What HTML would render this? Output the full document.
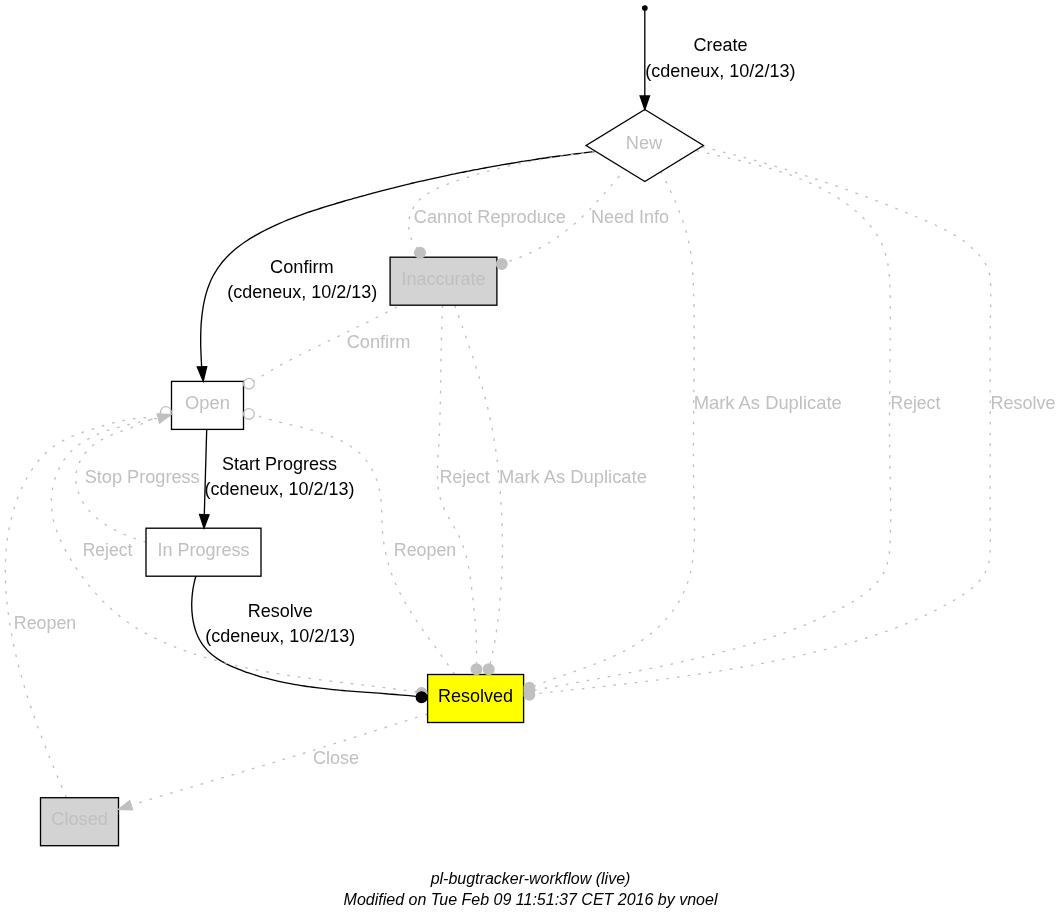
<!DOCTYPE html>
<html lang="en">
<head>
<meta charset="utf-8">
<title>pl-bugtracker-workflow (live)</title>
<style>
html,body{margin:0;padding:0;background:#fff;}
body{width:1061px;height:923px;overflow:hidden;}
svg{display:block;will-change:transform;}
text{font-family:"Liberation Sans",sans-serif;font-size:18.67px;text-anchor:middle;}
.g{fill:#c0c0c0;}
.k{fill:#000;}
.f{font-style:italic;font-size:16px;fill:#000;}
.e{fill:none;stroke:#000;stroke-width:1.33;}
.d{fill:none;stroke:#c0c0c0;stroke-width:1.33;stroke-dasharray:2.67,8;}
.n{stroke:#000;stroke-width:1.33;}
</style>
</head>
<body>
<svg width="1061" height="923" viewBox="0 0 1061 923">
<rect width="1061" height="923" fill="#fff"/>
<g id="edges-solid">
<path class="e" d="M644.8,8.0 C644.8,22.7 644.8,81.3 644.8,96.0"/>
<path class="e" d="M594.5,151.6 C593.3,151.7 589.8,152.1 587.4,152.4 C585.1,152.7 582.7,153.0 580.4,153.3 C578.0,153.6 575.7,153.9 573.3,154.2 C571.0,154.5 568.6,154.8 566.3,155.1 C564.0,155.4 561.6,155.7 559.3,156.0 C556.9,156.3 554.6,156.7 552.2,157.0 C549.9,157.3 547.6,157.6 545.2,158.0 C542.9,158.3 540.5,158.7 538.2,159.0 C535.9,159.4 533.5,159.7 531.2,160.1 C528.9,160.4 526.5,160.8 524.2,161.2 C521.9,161.5 519.6,161.9 517.2,162.3 C514.9,162.7 512.6,163.1 510.2,163.5 C507.9,163.8 505.6,164.2 503.3,164.6 C500.9,165.0 498.6,165.5 496.3,165.9 C494.0,166.3 491.7,166.7 489.3,167.1 C487.0,167.5 484.7,168.0 482.4,168.4 C480.1,168.8 477.7,169.3 475.4,169.7 C473.1,170.2 470.8,170.6 468.5,171.1 C466.2,171.5 463.9,172.0 461.6,172.4 C459.2,172.9 456.9,173.4 454.6,173.9 C452.3,174.3 450.0,174.8 447.7,175.3 C445.4,175.8 443.1,176.3 440.8,176.8 C438.5,177.3 436.2,177.8 433.9,178.3 C431.6,178.8 429.3,179.3 427.0,179.8 C424.7,180.4 422.4,180.9 420.1,181.4 C417.8,181.9 415.5,182.5 413.2,183.0 C410.9,183.6 408.6,184.1 406.3,184.7 C404.0,185.2 401.7,185.8 399.4,186.4 C397.1,186.9 394.8,187.5 392.5,188.1 C390.2,188.6 387.9,189.2 385.7,189.8 C383.4,190.4 381.1,191.0 378.8,191.6 C376.5,192.2 374.2,192.8 371.9,193.4 C369.7,194.0 367.4,194.6 365.1,195.3 C362.8,195.9 360.5,196.5 358.2,197.2 C356.0,197.8 353.7,198.4 351.4,199.1 C349.1,199.7 346.8,200.4 344.6,201.0 C342.3,201.7 340.0,202.4 337.7,203.0 C335.4,203.7 333.2,204.4 330.9,205.1 C328.6,205.8 326.4,206.5 324.1,207.2 C321.8,207.9 319.6,208.6 317.3,209.3 C315.0,210.0 312.8,210.8 310.5,211.5 C308.3,212.3 306.0,213.1 303.8,213.9 C301.6,214.7 299.3,215.5 297.1,216.3 C294.9,217.1 292.7,218.0 290.5,218.8 C288.3,219.7 286.1,220.6 283.9,221.5 C281.7,222.4 279.6,223.4 277.4,224.4 C275.2,225.3 273.1,226.3 271.0,227.3 C268.8,228.4 266.7,229.4 264.6,230.5 C262.5,231.6 260.4,232.7 258.3,233.8 C256.2,235.0 254.2,236.2 252.1,237.4 C250.1,238.6 248.1,239.9 246.1,241.2 C244.2,242.5 242.2,243.8 240.3,245.3 C238.4,246.7 236.6,248.1 234.8,249.6 C233.0,251.1 231.3,252.7 229.6,254.3 C227.9,255.9 226.3,257.6 224.8,259.3 C223.2,261.0 221.7,262.8 220.4,264.6 C219.0,266.5 217.6,268.3 216.4,270.3 C215.2,272.2 214.0,274.2 212.9,276.3 C211.9,278.3 210.9,280.4 210.0,282.5 C209.1,284.7 208.3,286.9 207.5,289.1 C206.8,291.3 206.1,293.6 205.5,295.9 C204.9,298.2 204.4,300.5 203.9,302.8 C203.4,305.2 203.0,307.5 202.7,309.9 C202.3,312.3 202.0,314.7 201.8,317.1 C201.5,319.6 201.3,322.0 201.1,324.4 C201.0,326.8 200.9,329.3 200.8,331.7 C200.7,334.1 200.7,336.6 200.7,339.0 C200.7,341.4 200.7,343.8 200.7,346.2 C200.8,348.6 200.9,350.9 201.0,353.3 C201.0,355.6 201.2,357.9 201.3,360.2 C201.4,362.5 201.6,365.9 201.7,367.0"/>
<path class="e" d="M206.7,429.5 C206.3,443.7 204.7,500.4 204.3,514.6"/>
<path class="e" d="M195.9,576.1 C195.6,577.2 194.7,580.4 194.2,582.6 C193.7,584.8 193.3,587.1 192.9,589.4 C192.6,591.7 192.3,594.1 192.1,596.4 C191.9,598.8 191.8,601.2 191.7,603.6 C191.7,606.0 191.8,608.5 191.9,610.9 C192.1,613.4 192.3,615.8 192.7,618.3 C193.1,620.7 193.5,623.1 194.1,625.5 C194.7,627.8 195.4,630.1 196.2,632.4 C197.0,634.6 198.0,636.8 199.0,638.8 C200.1,640.9 201.3,642.8 202.6,644.7 C203.9,646.5 205.4,648.2 206.9,649.9 C208.4,651.5 210.1,653.0 211.8,654.5 C213.6,655.9 215.4,657.3 217.3,658.6 C219.2,659.8 221.2,661.0 223.2,662.2 C225.3,663.3 227.4,664.4 229.5,665.4 C231.6,666.4 233.8,667.3 236.0,668.2 C238.2,669.2 240.5,670.0 242.7,670.8 C244.9,671.7 247.2,672.5 249.4,673.2 C251.7,674.0 253.9,674.7 256.2,675.4 C258.4,676.1 260.7,676.7 263.0,677.4 C265.2,678.0 267.5,678.6 269.8,679.2 C272.1,679.8 274.4,680.3 276.7,680.8 C278.9,681.4 281.2,681.9 283.5,682.3 C285.8,682.8 288.1,683.3 290.4,683.7 C292.7,684.1 295.1,684.5 297.4,684.9 C299.7,685.3 302.0,685.7 304.3,686.0 C306.6,686.4 309.0,686.7 311.3,687.0 C313.6,687.3 315.9,687.6 318.3,687.9 C320.6,688.2 322.9,688.5 325.3,688.7 C327.6,689.0 329.9,689.2 332.3,689.5 C334.6,689.7 336.9,689.9 339.3,690.2 C341.6,690.4 344.0,690.6 346.3,690.8 C348.6,691.0 351.0,691.2 353.3,691.3 C355.7,691.5 358.0,691.7 360.4,691.9 C362.7,692.1 365.1,692.2 367.4,692.4 C369.7,692.6 372.1,692.8 374.4,692.9 C376.8,693.1 379.1,693.3 381.5,693.4 C383.8,693.6 386.1,693.8 388.5,694.0 C390.8,694.1 393.2,694.3 395.5,694.5 C397.8,694.7 400.2,694.9 402.5,695.1 C404.9,695.3 407.2,695.5 409.5,695.7 C411.8,695.9 415.3,696.3 416.5,696.4"/>
</g>
<g id="edges-dotted">
<path class="d" d="M594.5,151.6 C593.3,151.8 589.7,152.2 587.3,152.5 C584.9,152.9 582.5,153.2 580.1,153.5 C577.8,153.8 575.4,154.2 573.0,154.5 C570.6,154.8 568.3,155.2 565.9,155.5 C563.5,155.9 561.2,156.2 558.8,156.6 C556.5,157.0 554.1,157.3 551.8,157.7 C549.4,158.1 547.1,158.5 544.8,158.9 C542.4,159.3 540.1,159.7 537.8,160.1 C535.4,160.5 533.1,161.0 530.8,161.4 C528.4,161.9 526.1,162.3 523.8,162.8 C521.5,163.2 519.2,163.7 516.9,164.2 C514.5,164.7 512.2,165.2 509.9,165.7 C507.6,166.3 505.3,166.8 503.0,167.4 C500.7,167.9 498.4,168.5 496.1,169.1 C493.8,169.7 491.5,170.3 489.2,170.9 C486.9,171.5 484.6,172.1 482.3,172.8 C480.0,173.4 477.7,174.1 475.4,174.8 C473.1,175.5 470.8,176.2 468.5,177.0 C466.2,177.7 463.9,178.5 461.6,179.2 C459.3,180.0 457.0,180.8 454.7,181.6 C452.4,182.5 450.1,183.3 447.8,184.2 C445.5,185.1 443.2,185.9 441.0,186.9 C438.7,187.8 436.5,188.8 434.3,189.9 C432.2,191.0 430.0,192.1 428.1,193.3 C426.1,194.5 424.1,195.8 422.4,197.2 C420.6,198.7 418.9,200.2 417.4,201.9 C416.0,203.5 414.6,205.3 413.5,207.3 C412.3,209.2 411.4,211.4 410.6,213.6 C409.9,215.8 409.4,218.1 409.0,220.5 C408.7,222.8 408.6,225.2 408.8,227.6 C408.9,230.0 409.3,232.5 409.9,234.8 C410.5,237.2 411.4,239.5 412.6,241.7 C413.7,243.9 416.1,247.0 416.8,248.0"/>
<path class="d" d="M626.5,168.0 C625.7,168.9 623.4,171.5 621.9,173.3 C620.3,175.0 618.8,176.8 617.3,178.6 C615.7,180.3 614.2,182.1 612.6,183.9 C611.1,185.7 609.6,187.5 608.0,189.2 C606.5,191.0 604.9,192.8 603.4,194.5 C601.8,196.3 600.2,198.0 598.6,199.8 C597.0,201.5 595.5,203.3 593.8,205.0 C592.2,206.7 590.6,208.4 589.0,210.1 C587.3,211.7 585.7,213.4 584.0,215.0 C582.3,216.7 580.6,218.3 578.9,219.9 C577.2,221.4 575.5,223.0 573.7,224.5 C571.9,226.1 570.1,227.5 568.3,229.0 C566.5,230.5 564.7,231.9 562.8,233.3 C560.9,234.7 559.0,236.1 557.1,237.4 C555.2,238.7 553.3,240.0 551.3,241.3 C549.3,242.5 547.4,243.7 545.3,244.9 C543.3,246.1 541.3,247.3 539.2,248.4 C537.2,249.5 535.1,250.6 533.0,251.6 C530.9,252.6 528.8,253.6 526.6,254.6 C524.5,255.6 522.3,256.5 520.1,257.4 C517.9,258.3 515.7,259.1 513.5,259.9 C511.2,260.7 507.8,261.8 506.7,262.2"/>
<path class="d" d="M397.0,307.0 C396.0,307.5 392.9,309.2 390.8,310.2 C388.7,311.3 386.6,312.4 384.5,313.4 C382.5,314.5 380.4,315.6 378.3,316.6 C376.2,317.7 374.1,318.7 372.0,319.8 C369.9,320.8 367.8,321.9 365.7,322.9 C363.6,324.0 361.5,325.0 359.4,326.0 C357.3,327.1 355.2,328.1 353.1,329.2 C351.0,330.2 348.9,331.2 346.8,332.2 C344.7,333.3 342.6,334.3 340.5,335.3 C338.4,336.3 336.3,337.3 334.2,338.4 C332.0,339.4 329.9,340.4 327.8,341.4 C325.7,342.4 323.6,343.4 321.5,344.5 C319.4,345.5 317.2,346.5 315.1,347.5 C313.0,348.5 310.9,349.6 308.8,350.6 C306.7,351.6 304.6,352.6 302.5,353.7 C300.4,354.7 298.3,355.8 296.2,356.8 C294.2,357.9 292.1,359.0 290.0,360.1 C287.9,361.1 285.9,362.2 283.8,363.3 C281.8,364.5 279.7,365.6 277.7,366.7 C275.6,367.9 273.6,369.0 271.6,370.2 C269.6,371.4 267.6,372.6 265.6,373.8 C263.6,375.0 261.6,376.2 259.6,377.5 C257.7,378.7 254.8,380.7 253.8,381.3"/>
<path class="d" d="M442.6,305.5 C442.5,306.7 442.4,310.2 442.3,312.6 C442.2,314.9 442.1,317.3 442.0,319.6 C441.9,322.0 441.8,324.3 441.8,326.6 C441.7,329.0 441.6,331.3 441.6,333.7 C441.5,336.0 441.4,338.3 441.4,340.7 C441.3,343.0 441.3,345.3 441.2,347.7 C441.2,350.0 441.2,352.3 441.1,354.7 C441.1,357.0 441.0,359.3 441.0,361.6 C441.0,364.0 440.9,366.3 440.9,368.6 C440.9,371.0 440.8,373.3 440.8,375.6 C440.7,377.9 440.7,380.3 440.7,382.6 C440.6,384.9 440.6,387.3 440.6,389.6 C440.5,391.9 440.5,394.3 440.4,396.6 C440.4,398.9 440.3,401.3 440.3,403.6 C440.2,405.9 440.2,408.3 440.1,410.6 C440.0,412.9 440.0,415.3 439.9,417.6 C439.8,420.0 439.8,422.3 439.7,424.7 C439.6,427.0 439.5,429.4 439.4,431.7 C439.3,434.1 439.2,436.4 439.1,438.8 C438.9,441.2 438.8,443.5 438.7,445.9 C438.5,448.2 438.4,450.6 438.2,453.0 C438.1,455.4 437.9,457.7 437.8,460.1 C437.7,462.5 437.6,464.8 437.5,467.2 C437.4,469.6 437.4,471.9 437.4,474.2 C437.4,476.6 437.5,478.9 437.6,481.2 C437.8,483.5 438.0,485.8 438.3,488.1 C438.6,490.4 438.9,492.6 439.4,494.8 C439.9,497.0 440.5,499.2 441.2,501.4 C441.9,503.6 442.8,505.7 443.7,507.8 C444.6,510.0 445.7,512.0 446.8,514.1 C447.8,516.2 449.0,518.2 450.1,520.3 C451.3,522.4 452.5,524.4 453.7,526.4 C454.8,528.5 456.0,530.5 457.1,532.6 C458.2,534.7 459.2,536.8 460.2,538.9 C461.1,541.1 462.0,543.2 462.8,545.4 C463.6,547.6 464.3,549.8 465.0,552.0 C465.7,554.2 466.3,556.5 466.8,558.7 C467.4,561.0 467.8,563.3 468.3,565.6 C468.7,567.9 469.1,570.2 469.5,572.5 C469.9,574.8 470.2,577.2 470.5,579.5 C470.8,581.8 471.1,584.2 471.4,586.5 C471.7,588.8 472.0,591.2 472.3,593.5 C472.5,595.8 472.8,598.2 473.1,600.5 C473.3,602.8 473.6,605.2 473.8,607.5 C474.1,609.8 474.3,612.1 474.5,614.5 C474.8,616.8 475.0,619.1 475.2,621.5 C475.4,623.8 475.5,626.1 475.7,628.4 C475.9,630.8 476.0,633.1 476.1,635.4 C476.2,637.8 476.3,640.1 476.4,642.4 C476.5,644.8 476.6,647.1 476.6,649.4 C476.6,651.8 476.6,654.1 476.6,656.5 C476.6,658.8 476.5,662.3 476.5,663.5"/>
<path class="d" d="M454.8,305.5 C455.2,306.6 456.4,309.9 457.1,312.1 C457.9,314.3 458.7,316.5 459.5,318.7 C460.2,320.9 461.0,323.2 461.8,325.4 C462.6,327.6 463.4,329.8 464.2,332.0 C464.9,334.2 465.7,336.4 466.5,338.6 C467.3,340.9 468.0,343.1 468.8,345.3 C469.5,347.5 470.3,349.7 471.1,352.0 C471.8,354.2 472.6,356.4 473.3,358.6 C474.0,360.9 474.8,363.1 475.5,365.3 C476.2,367.6 476.9,369.8 477.6,372.0 C478.3,374.3 479.0,376.5 479.7,378.8 C480.4,381.0 481.0,383.3 481.7,385.5 C482.4,387.8 483.0,390.0 483.6,392.3 C484.2,394.5 484.9,396.8 485.5,399.0 C486.0,401.3 486.6,403.6 487.2,405.8 C487.8,408.1 488.3,410.4 488.8,412.7 C489.4,414.9 489.9,417.2 490.3,419.5 C490.8,421.8 491.3,424.1 491.8,426.4 C492.2,428.7 492.6,431.0 493.0,433.3 C493.5,435.6 493.9,437.9 494.2,440.2 C494.6,442.5 495.0,444.8 495.3,447.1 C495.7,449.4 496.0,451.7 496.3,454.0 C496.6,456.3 496.9,458.7 497.2,461.0 C497.5,463.3 497.8,465.6 498.0,468.0 C498.3,470.3 498.5,472.6 498.8,474.9 C499.0,477.3 499.2,479.6 499.4,481.9 C499.7,484.3 499.9,486.6 500.0,489.0 C500.2,491.3 500.4,493.6 500.6,496.0 C500.7,498.3 500.9,500.7 501.1,503.0 C501.2,505.3 501.3,507.7 501.5,510.0 C501.6,512.4 501.7,514.7 501.8,517.1 C501.9,519.4 502.0,521.8 502.1,524.1 C502.1,526.5 502.2,528.8 502.3,531.2 C502.3,533.5 502.4,535.9 502.4,538.2 C502.4,540.6 502.4,542.9 502.5,545.3 C502.5,547.6 502.5,550.0 502.4,552.3 C502.4,554.7 502.4,557.0 502.3,559.4 C502.3,561.7 502.2,564.1 502.2,566.4 C502.1,568.7 502.0,571.1 501.9,573.4 C501.8,575.8 501.7,578.1 501.6,580.5 C501.4,582.8 501.3,585.1 501.1,587.5 C501.0,589.8 500.8,592.2 500.6,594.5 C500.4,596.8 500.2,599.2 500.0,601.5 C499.8,603.8 499.6,606.2 499.3,608.5 C499.1,610.8 498.8,613.1 498.6,615.5 C498.3,617.8 498.0,620.1 497.7,622.4 C497.4,624.7 497.1,627.1 496.7,629.4 C496.4,631.7 496.0,634.0 495.7,636.3 C495.3,638.6 494.9,640.9 494.5,643.2 C494.1,645.5 493.6,647.8 493.2,650.1 C492.7,652.4 492.3,654.7 491.8,657.0 C491.3,659.2 490.5,662.7 490.2,663.8"/>
<path class="d" d="M660.7,171.5 C661.2,172.5 662.8,175.6 663.9,177.7 C665.0,179.8 666.0,181.9 667.1,184.0 C668.1,186.1 669.1,188.2 670.1,190.3 C671.1,192.4 672.1,194.6 673.1,196.7 C674.1,198.8 675.0,201.0 675.9,203.1 C676.8,205.3 677.7,207.4 678.6,209.6 C679.5,211.8 680.3,214.0 681.1,216.1 C681.9,218.3 682.7,220.5 683.4,222.8 C684.1,225.0 684.8,227.2 685.5,229.4 C686.2,231.7 686.8,233.9 687.3,236.2 C687.9,238.4 688.4,240.7 688.9,242.9 C689.4,245.2 689.8,247.5 690.2,249.8 C690.6,252.1 690.9,254.4 691.2,256.7 C691.6,259.0 691.8,261.4 692.1,263.7 C692.3,266.0 692.5,268.4 692.7,270.7 C692.8,273.0 693.0,275.4 693.1,277.7 C693.2,280.1 693.3,282.4 693.4,284.8 C693.5,287.1 693.6,289.5 693.7,291.8 C693.7,294.2 693.8,296.5 693.8,298.9 C693.9,301.2 693.9,303.6 693.9,305.9 C694.0,308.3 694.0,310.6 694.0,313.0 C694.1,315.3 694.1,317.6 694.1,320.0 C694.1,322.3 694.1,324.6 694.1,327.0 C694.2,329.3 694.2,331.6 694.2,334.0 C694.2,336.3 694.2,338.6 694.2,340.9 C694.2,343.3 694.2,345.6 694.2,347.9 C694.2,350.2 694.1,352.6 694.1,354.9 C694.1,357.2 694.1,359.5 694.1,361.9 C694.1,364.2 694.1,366.5 694.0,368.8 C694.0,371.1 694.0,373.5 694.0,375.8 C694.0,378.1 693.9,380.4 693.9,382.7 C693.9,385.0 693.9,387.4 693.9,389.7 C693.8,392.0 693.8,394.3 693.8,396.6 C693.8,399.0 693.7,401.3 693.7,403.6 C693.7,405.9 693.7,408.2 693.7,410.6 C693.6,412.9 693.6,415.2 693.6,417.5 C693.6,419.9 693.6,422.2 693.5,424.5 C693.5,426.8 693.5,429.2 693.5,431.5 C693.5,433.8 693.5,436.1 693.5,438.5 C693.5,440.8 693.4,443.1 693.4,445.5 C693.4,447.8 693.4,450.1 693.4,452.5 C693.4,454.8 693.4,457.2 693.5,459.5 C693.5,461.9 693.5,464.2 693.5,466.6 C693.5,468.9 693.5,471.3 693.5,473.6 C693.6,476.0 693.6,478.3 693.6,480.7 C693.7,483.0 693.7,485.4 693.7,487.8 C693.8,490.1 693.8,492.5 693.9,494.9 C693.9,497.2 694.0,499.6 694.0,502.0 C694.1,504.4 694.2,506.8 694.2,509.1 C694.3,511.5 694.3,513.9 694.4,516.3 C694.4,518.7 694.5,521.1 694.5,523.4 C694.5,525.8 694.5,528.2 694.5,530.5 C694.5,532.9 694.5,535.3 694.4,537.6 C694.4,540.0 694.3,542.3 694.1,544.7 C694.0,547.0 693.8,549.3 693.6,551.6 C693.4,553.9 693.2,556.3 692.9,558.5 C692.6,560.8 692.3,563.1 691.9,565.3 C691.5,567.6 691.0,569.8 690.5,572.1 C690.0,574.3 689.5,576.5 688.8,578.6 C688.2,580.8 687.5,583.0 686.7,585.1 C685.9,587.2 685.1,589.4 684.1,591.4 C683.2,593.5 682.2,595.6 681.1,597.6 C680.0,599.6 678.9,601.6 677.6,603.6 C676.4,605.6 675.1,607.5 673.8,609.4 C672.4,611.3 671.0,613.2 669.5,615.0 C668.0,616.8 666.5,618.6 664.9,620.4 C663.3,622.1 661.7,623.8 660.0,625.5 C658.3,627.1 656.6,628.7 654.8,630.3 C653.0,631.9 651.2,633.4 649.4,634.9 C647.6,636.3 645.7,637.8 643.8,639.1 C641.9,640.5 639.9,641.8 638.0,643.1 C636.0,644.4 634.0,645.6 632.0,646.8 C630.0,648.0 627.9,649.1 625.9,650.2 C623.8,651.3 621.7,652.4 619.6,653.4 C617.5,654.5 615.4,655.5 613.3,656.4 C611.2,657.4 609.0,658.4 606.8,659.3 C604.7,660.2 602.5,661.1 600.3,662.0 C598.1,662.8 595.9,663.7 593.7,664.5 C591.5,665.4 589.3,666.2 587.1,667.0 C584.9,667.8 582.7,668.6 580.4,669.4 C578.2,670.2 576.0,671.0 573.8,671.7 C571.5,672.5 569.3,673.3 567.1,674.1 C564.9,674.8 562.7,675.6 560.5,676.4 C558.3,677.2 556.1,678.0 553.9,678.7 C551.7,679.5 549.5,680.3 547.3,681.1 C545.2,682.0 543.0,682.8 540.9,683.6 C538.7,684.5 535.6,685.8 534.5,686.2"/>
<path class="d" d="M696.5,150.7 C697.7,151.0 701.1,151.8 703.4,152.3 C705.8,152.9 708.1,153.4 710.4,153.9 C712.7,154.4 715.0,155.0 717.3,155.5 C719.6,156.0 721.9,156.5 724.1,157.0 C726.4,157.6 728.7,158.1 731.0,158.6 C733.3,159.1 735.5,159.7 737.8,160.2 C740.1,160.7 742.4,161.3 744.6,161.8 C746.9,162.4 749.1,162.9 751.4,163.5 C753.6,164.0 755.9,164.6 758.1,165.2 C760.3,165.8 762.6,166.4 764.8,167.0 C767.0,167.7 769.3,168.3 771.5,168.9 C773.7,169.6 775.9,170.3 778.1,171.0 C780.3,171.7 782.5,172.4 784.7,173.1 C786.9,173.9 789.1,174.6 791.3,175.4 C793.4,176.2 795.6,177.0 797.8,177.9 C800.0,178.7 802.1,179.6 804.3,180.5 C806.4,181.4 808.6,182.3 810.7,183.3 C812.9,184.3 815.0,185.3 817.1,186.3 C819.3,187.4 821.4,188.4 823.5,189.5 C825.6,190.7 827.7,191.8 829.8,193.0 C831.9,194.2 834.0,195.4 836.0,196.7 C838.1,198.0 840.1,199.3 842.1,200.6 C844.1,202.0 846.0,203.3 848.0,204.8 C849.9,206.2 851.8,207.7 853.6,209.2 C855.5,210.7 857.2,212.2 859.0,213.8 C860.7,215.4 862.4,217.0 864.0,218.7 C865.7,220.4 867.2,222.1 868.7,223.8 C870.2,225.6 871.7,227.4 873.0,229.2 C874.4,231.1 875.7,233.0 876.9,234.9 C878.1,236.8 879.2,238.8 880.3,240.8 C881.3,242.8 882.3,244.9 883.1,247.0 C884.0,249.1 884.7,251.2 885.4,253.4 C886.1,255.6 886.6,257.9 887.1,260.1 C887.6,262.4 888.0,264.7 888.3,267.0 C888.7,269.3 889.0,271.7 889.2,274.0 C889.4,276.4 889.6,278.8 889.7,281.2 C889.9,283.6 889.9,286.0 890.0,288.4 C890.1,290.8 890.1,293.2 890.1,295.6 C890.2,298.0 890.2,300.3 890.2,302.7 C890.2,305.1 890.2,307.5 890.3,309.8 C890.3,312.2 890.3,314.5 890.3,316.8 C890.3,319.2 890.3,321.5 890.3,323.8 C890.3,326.2 890.3,328.5 890.2,330.8 C890.2,333.1 890.2,335.5 890.2,337.8 C890.2,340.1 890.2,342.4 890.2,344.7 C890.1,347.1 890.1,349.4 890.1,351.7 C890.1,354.0 890.1,356.4 890.0,358.7 C890.0,361.0 890.0,363.4 890.0,365.7 C889.9,368.0 889.9,370.4 889.9,372.7 C889.9,375.0 889.8,377.4 889.8,379.7 C889.8,382.0 889.8,384.4 889.7,386.7 C889.7,389.0 889.7,391.4 889.7,393.7 C889.6,396.1 889.6,398.4 889.6,400.7 C889.6,403.1 889.6,405.4 889.5,407.8 C889.5,410.1 889.5,412.4 889.5,414.8 C889.5,417.1 889.5,419.5 889.5,421.8 C889.5,424.1 889.5,426.5 889.5,428.8 C889.5,431.2 889.5,433.5 889.5,435.9 C889.5,438.2 889.5,440.5 889.5,442.9 C889.6,445.2 889.6,447.6 889.6,449.9 C889.6,452.2 889.7,454.6 889.7,456.9 C889.7,459.3 889.8,461.6 889.8,463.9 C889.9,466.3 889.9,468.6 890.0,471.0 C890.0,473.3 890.1,475.6 890.2,478.0 C890.2,480.3 890.3,482.7 890.3,485.0 C890.4,487.4 890.4,489.7 890.5,492.0 C890.5,494.4 890.6,496.7 890.6,499.1 C890.6,501.4 890.7,503.8 890.7,506.1 C890.7,508.5 890.7,510.8 890.7,513.2 C890.7,515.6 890.7,517.9 890.7,520.3 C890.7,522.6 890.7,525.0 890.6,527.4 C890.6,529.8 890.5,532.1 890.4,534.5 C890.3,536.9 890.3,539.3 890.1,541.6 C890.0,544.0 889.9,546.4 889.7,548.8 C889.5,551.1 889.2,553.5 888.9,555.8 C888.5,558.1 888.1,560.4 887.5,562.6 C887.0,564.8 886.3,566.9 885.5,568.9 C884.6,571.0 883.6,573.0 882.5,574.9 C881.4,576.8 880.1,578.6 878.8,580.3 C877.4,582.1 875.9,583.8 874.4,585.4 C872.8,587.0 871.1,588.6 869.3,590.1 C867.6,591.6 865.7,593.0 863.8,594.4 C861.9,595.8 859.9,597.2 857.9,598.5 C855.9,599.8 853.8,601.1 851.8,602.3 C849.7,603.5 847.5,604.7 845.4,605.9 C843.3,607.0 841.1,608.2 839.0,609.3 C836.8,610.4 834.7,611.4 832.5,612.5 C830.4,613.6 828.3,614.6 826.1,615.6 C824.0,616.6 821.8,617.6 819.7,618.6 C817.5,619.5 815.4,620.5 813.2,621.4 C811.1,622.3 808.9,623.3 806.8,624.2 C804.6,625.0 802.5,625.9 800.3,626.8 C798.1,627.6 796.0,628.5 793.8,629.3 C791.6,630.2 789.4,631.0 787.3,631.8 C785.1,632.6 782.9,633.4 780.7,634.2 C778.5,634.9 776.3,635.7 774.1,636.5 C771.9,637.2 769.7,638.0 767.5,638.7 C765.3,639.4 763.0,640.1 760.8,640.9 C758.6,641.6 756.4,642.3 754.1,643.0 C751.9,643.6 749.7,644.3 747.4,645.0 C745.2,645.6 743.0,646.3 740.7,646.9 C738.5,647.6 736.2,648.2 734.0,648.9 C731.7,649.5 729.5,650.1 727.2,650.7 C724.9,651.3 722.7,651.9 720.4,652.5 C718.2,653.1 715.9,653.7 713.6,654.3 C711.3,654.8 709.1,655.4 706.8,656.0 C704.5,656.5 702.3,657.1 700.0,657.6 C697.7,658.2 695.4,658.7 693.1,659.2 C690.9,659.8 688.6,660.3 686.3,660.8 C684.0,661.3 681.7,661.8 679.4,662.4 C677.1,662.9 674.8,663.4 672.6,663.9 C670.3,664.4 668.0,664.8 665.7,665.3 C663.4,665.8 661.1,666.3 658.8,666.8 C656.5,667.3 654.2,667.7 651.9,668.2 C649.6,668.7 647.3,669.1 645.0,669.6 C642.7,670.1 640.4,670.5 638.2,671.0 C635.9,671.4 633.6,671.9 631.3,672.3 C629.0,672.8 626.7,673.2 624.4,673.7 C622.1,674.1 619.8,674.6 617.5,675.0 C615.2,675.4 612.9,675.9 610.6,676.3 C608.3,676.7 606.0,677.2 603.7,677.6 C601.4,678.0 599.1,678.4 596.8,678.9 C594.5,679.3 592.2,679.7 589.9,680.1 C587.6,680.6 585.3,681.0 583.0,681.4 C580.7,681.8 578.4,682.2 576.1,682.6 C573.8,683.1 571.5,683.5 569.2,683.9 C566.9,684.3 564.6,684.7 562.3,685.1 C560.0,685.5 557.7,685.9 555.4,686.3 C553.0,686.7 550.7,687.2 548.4,687.6 C546.1,688.0 543.8,688.4 541.5,688.8 C539.2,689.2 535.8,689.8 534.6,690.0"/>
<path class="d" d="M702.2,147.0 C703.3,147.3 706.8,148.1 709.1,148.6 C711.4,149.2 713.7,149.7 716.0,150.3 C718.2,150.9 720.5,151.4 722.8,152.0 C725.1,152.6 727.4,153.2 729.6,153.8 C731.9,154.3 734.2,154.9 736.5,155.5 C738.7,156.1 741.0,156.7 743.2,157.3 C745.5,157.9 747.8,158.6 750.0,159.2 C752.3,159.8 754.5,160.4 756.8,161.0 C759.0,161.7 761.3,162.3 763.5,162.9 C765.8,163.6 768.0,164.2 770.2,164.9 C772.5,165.5 774.7,166.2 776.9,166.9 C779.2,167.5 781.4,168.2 783.6,168.9 C785.9,169.5 788.1,170.2 790.3,170.9 C792.5,171.6 794.8,172.3 797.0,173.0 C799.2,173.7 801.4,174.4 803.6,175.1 C805.9,175.8 808.1,176.5 810.3,177.3 C812.5,178.0 814.7,178.7 816.9,179.4 C819.1,180.2 821.3,180.9 823.6,181.7 C825.8,182.4 828.0,183.1 830.2,183.9 C832.4,184.7 834.6,185.4 836.8,186.2 C839.0,187.0 841.2,187.7 843.4,188.5 C845.6,189.3 847.8,190.1 850.0,190.9 C852.2,191.7 854.4,192.5 856.6,193.3 C858.8,194.1 860.9,194.9 863.1,195.7 C865.3,196.5 867.5,197.4 869.7,198.2 C871.9,199.0 874.1,199.8 876.3,200.7 C878.5,201.5 880.7,202.4 882.9,203.2 C885.0,204.1 887.2,204.9 889.4,205.8 C891.6,206.7 893.8,207.5 896.0,208.4 C898.2,209.3 900.4,210.2 902.5,211.1 C904.7,212.0 906.9,212.9 909.1,213.8 C911.3,214.7 913.5,215.6 915.7,216.5 C917.9,217.4 920.1,218.3 922.2,219.3 C924.4,220.2 926.6,221.1 928.8,222.1 C931.0,223.0 933.1,224.0 935.3,225.0 C937.4,226.0 939.6,227.0 941.7,228.1 C943.8,229.1 945.9,230.2 947.9,231.3 C950.0,232.4 952.0,233.6 954.0,234.8 C956.0,236.0 958.0,237.2 959.9,238.5 C961.8,239.8 963.7,241.1 965.5,242.5 C967.4,244.0 969.2,245.4 970.9,246.9 C972.6,248.4 974.3,250.0 975.9,251.7 C977.5,253.3 979.1,255.1 980.6,256.9 C982.0,258.7 983.5,260.6 984.7,262.5 C985.9,264.5 987.0,266.5 987.8,268.6 C988.7,270.8 989.3,273.0 989.7,275.2 C990.2,277.5 990.4,279.8 990.6,282.2 C990.7,284.5 990.8,287.0 990.8,289.3 C990.8,291.7 990.8,294.1 990.8,296.5 C990.8,298.9 990.7,301.3 990.7,303.6 C990.7,306.0 990.6,308.4 990.6,310.7 C990.5,313.1 990.5,315.4 990.4,317.8 C990.4,320.1 990.4,322.5 990.3,324.8 C990.3,327.1 990.2,329.5 990.2,331.8 C990.1,334.1 990.1,336.5 990.1,338.8 C990.1,341.1 990.0,343.5 990.0,345.8 C990.0,348.1 990.0,350.4 990.0,352.8 C990.0,355.1 990.0,357.4 990.1,359.7 C990.1,362.1 990.1,364.4 990.1,366.7 C990.1,369.0 990.1,371.4 990.2,373.7 C990.2,376.0 990.2,378.4 990.2,380.7 C990.2,383.0 990.2,385.4 990.2,387.7 C990.2,390.1 990.3,392.4 990.3,394.7 C990.3,397.1 990.3,399.4 990.3,401.8 C990.3,404.1 990.3,406.5 990.3,408.9 C990.3,411.2 990.3,413.6 990.3,415.9 C990.3,418.3 990.3,420.6 990.3,423.0 C990.3,425.3 990.2,427.7 990.2,430.0 C990.2,432.4 990.2,434.8 990.2,437.1 C990.2,439.5 990.2,441.8 990.2,444.2 C990.2,446.5 990.2,448.9 990.2,451.2 C990.2,453.5 990.2,455.9 990.2,458.2 C990.2,460.6 990.1,462.9 990.1,465.2 C990.1,467.6 990.1,469.9 990.1,472.2 C990.1,474.6 990.1,476.9 990.1,479.2 C990.1,481.5 990.1,483.8 990.1,486.1 C990.1,488.5 990.1,490.8 990.1,493.1 C990.1,495.4 990.1,497.7 990.2,499.9 C990.2,502.2 990.2,504.5 990.2,506.8 C990.2,509.1 990.2,511.4 990.2,513.7 C990.2,516.0 990.2,518.3 990.3,520.6 C990.3,522.9 990.3,525.3 990.3,527.6 C990.3,530.0 990.3,532.4 990.3,534.9 C990.3,537.3 990.4,539.8 990.4,542.3 C990.3,544.8 990.4,547.3 990.2,549.8 C990.1,552.3 990.0,554.9 989.7,557.3 C989.4,559.7 989.0,562.1 988.4,564.3 C987.8,566.6 987.0,568.7 986.1,570.7 C985.1,572.8 984.0,574.7 982.8,576.5 C981.5,578.3 980.1,580.1 978.7,581.7 C977.2,583.4 975.5,585.0 973.9,586.5 C972.2,588.0 970.4,589.5 968.5,590.9 C966.7,592.3 964.7,593.6 962.7,594.9 C960.8,596.2 958.7,597.4 956.7,598.7 C954.7,599.9 952.6,601.1 950.5,602.3 C948.5,603.4 946.4,604.6 944.3,605.7 C942.2,606.8 940.1,608.0 938.0,609.0 C935.9,610.1 933.8,611.2 931.7,612.2 C929.6,613.3 927.5,614.3 925.4,615.3 C923.2,616.3 921.1,617.3 918.9,618.2 C916.8,619.2 914.7,620.1 912.5,621.1 C910.3,622.0 908.2,622.9 906.0,623.8 C903.8,624.7 901.7,625.5 899.5,626.4 C897.3,627.2 895.1,628.1 892.9,628.9 C890.7,629.7 888.5,630.5 886.3,631.3 C884.1,632.1 881.9,632.9 879.7,633.6 C877.5,634.4 875.3,635.1 873.0,635.9 C870.8,636.6 868.6,637.3 866.3,638.0 C864.1,638.7 861.9,639.4 859.6,640.1 C857.4,640.8 855.1,641.4 852.9,642.1 C850.7,642.7 848.4,643.4 846.2,644.0 C843.9,644.6 841.6,645.2 839.4,645.9 C837.1,646.5 834.9,647.1 832.6,647.7 C830.3,648.2 828.1,648.8 825.8,649.4 C823.5,650.0 821.2,650.5 819.0,651.1 C816.7,651.6 814.4,652.2 812.2,652.7 C809.9,653.3 807.6,653.8 805.3,654.3 C803.0,654.9 800.8,655.4 798.5,655.9 C796.2,656.4 793.9,656.9 791.6,657.4 C789.3,657.9 787.1,658.4 784.8,658.9 C782.5,659.4 780.2,659.8 777.9,660.3 C775.6,660.8 773.3,661.2 771.0,661.7 C768.7,662.1 766.4,662.6 764.1,663.0 C761.8,663.5 759.5,663.9 757.3,664.4 C755.0,664.8 752.7,665.2 750.4,665.6 C748.1,666.1 745.8,666.5 743.5,666.9 C741.1,667.3 738.8,667.7 736.5,668.1 C734.2,668.5 731.9,668.9 729.6,669.3 C727.3,669.7 725.0,670.1 722.7,670.4 C720.4,670.8 718.1,671.2 715.8,671.5 C713.5,671.9 711.2,672.3 708.8,672.6 C706.5,673.0 704.2,673.4 701.9,673.7 C699.6,674.1 697.3,674.4 695.0,674.7 C692.6,675.1 690.3,675.4 688.0,675.7 C685.7,676.1 683.4,676.4 681.1,676.7 C678.7,677.1 676.4,677.4 674.1,677.7 C671.8,678.0 669.5,678.3 667.1,678.6 C664.8,678.9 662.5,679.3 660.2,679.6 C657.9,679.9 655.5,680.2 653.2,680.5 C650.9,680.8 648.6,681.0 646.2,681.3 C643.9,681.6 641.6,681.9 639.3,682.2 C637.0,682.5 634.6,682.8 632.3,683.0 C630.0,683.3 627.7,683.6 625.3,683.9 C623.0,684.2 620.7,684.4 618.4,684.7 C616.0,685.0 613.7,685.2 611.4,685.5 C609.0,685.8 606.7,686.0 604.4,686.3 C602.1,686.6 599.7,686.8 597.4,687.1 C595.1,687.3 592.8,687.6 590.4,687.8 C588.1,688.1 585.8,688.4 583.5,688.6 C581.1,688.9 578.8,689.1 576.5,689.4 C574.1,689.6 571.8,689.9 569.5,690.1 C567.2,690.4 564.8,690.6 562.5,690.9 C560.2,691.1 557.9,691.3 555.5,691.6 C553.2,691.8 550.9,692.1 548.6,692.3 C546.2,692.6 543.9,692.8 541.6,693.1 C539.3,693.3 535.8,693.7 534.6,693.8"/>
<path class="d" d="M146.0,542.3 C144.9,541.9 141.7,540.9 139.5,540.2 C137.4,539.4 135.1,538.7 132.9,537.8 C130.7,537.0 128.4,536.1 126.2,535.2 C123.9,534.2 121.7,533.2 119.5,532.2 C117.2,531.1 115.0,530.0 112.9,528.9 C110.7,527.7 108.6,526.5 106.5,525.1 C104.4,523.8 102.4,522.5 100.5,521.0 C98.5,519.6 96.6,518.0 94.8,516.4 C93.0,514.8 91.3,513.1 89.7,511.4 C88.1,509.6 86.6,507.8 85.2,505.8 C83.9,503.9 82.6,501.8 81.5,499.7 C80.4,497.6 79.4,495.3 78.6,493.1 C77.8,490.8 77.1,488.5 76.6,486.2 C76.2,483.9 75.9,481.5 75.8,479.2 C75.8,476.8 75.9,474.5 76.3,472.2 C76.7,469.9 77.3,467.6 78.1,465.4 C78.9,463.2 80.0,461.1 81.2,459.0 C82.4,457.0 83.7,455.0 85.2,453.1 C86.7,451.3 88.4,449.5 90.1,447.9 C91.9,446.2 93.8,444.7 95.7,443.3 C97.6,442.0 99.7,440.7 101.7,439.6 C103.8,438.4 106.0,437.4 108.2,436.4 C110.4,435.4 112.6,434.5 114.9,433.6 C117.2,432.7 119.5,431.9 121.8,431.1 C124.1,430.3 126.4,429.5 128.7,428.7 C131.0,427.9 133.3,427.1 135.6,426.3 C137.8,425.5 140.1,424.6 142.3,423.7 C144.5,422.7 146.6,421.8 148.7,420.7 C150.8,419.6 152.8,418.5 154.8,417.2 C156.7,415.9 159.4,413.7 160.3,413.0"/>
<path class="d" d="M171.5,415.0 C170.4,415.3 166.9,416.2 164.7,416.7 C162.4,417.3 160.1,417.8 157.8,418.3 C155.6,418.8 153.3,419.3 151.0,419.7 C148.8,420.2 146.5,420.7 144.2,421.1 C142.0,421.6 139.7,422.1 137.4,422.6 C135.1,423.1 132.9,423.6 130.6,424.1 C128.3,424.6 126.0,425.2 123.7,425.7 C121.5,426.3 119.2,426.9 116.9,427.6 C114.6,428.2 112.4,428.9 110.1,429.6 C107.9,430.3 105.6,431.1 103.4,431.9 C101.2,432.8 99.0,433.6 96.9,434.6 C94.7,435.5 92.6,436.5 90.5,437.6 C88.4,438.7 86.4,439.8 84.4,441.0 C82.4,442.2 80.5,443.5 78.6,444.9 C76.7,446.3 74.9,447.7 73.2,449.3 C71.5,450.8 69.9,452.5 68.4,454.2 C66.9,456.0 65.5,457.8 64.2,459.7 C62.8,461.6 61.6,463.6 60.5,465.6 C59.4,467.7 58.4,469.8 57.5,472.0 C56.5,474.1 55.7,476.3 55.0,478.6 C54.3,480.8 53.7,483.1 53.2,485.4 C52.7,487.7 52.3,490.1 52.0,492.4 C51.7,494.8 51.5,497.1 51.4,499.5 C51.3,501.8 51.4,504.2 51.5,506.5 C51.6,508.8 51.9,511.2 52.2,513.4 C52.5,515.7 53.0,518.0 53.5,520.3 C54.0,522.5 54.7,524.7 55.4,527.0 C56.0,529.2 56.8,531.4 57.7,533.5 C58.5,535.7 59.4,537.9 60.4,540.0 C61.4,542.1 62.4,544.3 63.5,546.4 C64.5,548.5 65.6,550.5 66.8,552.6 C67.9,554.7 69.1,556.7 70.3,558.7 C71.5,560.8 72.8,562.8 74.0,564.8 C75.3,566.8 76.6,568.7 77.9,570.7 C79.3,572.6 80.6,574.5 82.0,576.4 C83.4,578.4 84.8,580.2 86.2,582.1 C87.6,583.9 89.1,585.8 90.6,587.6 C92.1,589.4 93.6,591.2 95.2,592.9 C96.7,594.7 98.3,596.4 99.9,598.1 C101.5,599.8 103.1,601.4 104.8,603.0 C106.5,604.7 108.1,606.3 109.9,607.8 C111.6,609.4 113.3,610.9 115.1,612.4 C116.9,613.9 118.7,615.4 120.5,616.8 C122.3,618.2 124.2,619.6 126.1,621.0 C128.0,622.3 129.9,623.6 131.8,624.9 C133.7,626.2 135.7,627.5 137.7,628.7 C139.7,629.9 141.7,631.1 143.7,632.2 C145.7,633.4 147.8,634.5 149.8,635.6 C151.9,636.6 154.0,637.7 156.1,638.7 C158.2,639.8 160.3,640.8 162.5,641.7 C164.6,642.7 166.8,643.6 168.9,644.6 C171.1,645.5 173.3,646.4 175.4,647.2 C177.6,648.1 179.8,648.9 182.0,649.7 C184.3,650.6 186.5,651.4 188.7,652.1 C190.9,652.9 193.2,653.7 195.4,654.4 C197.6,655.1 199.9,655.8 202.1,656.5 C204.4,657.2 206.6,657.9 208.9,658.5 C211.1,659.2 213.4,659.8 215.7,660.4 C217.9,661.1 220.2,661.7 222.5,662.2 C224.7,662.8 227.0,663.4 229.3,664.0 C231.5,664.5 233.8,665.1 236.1,665.6 C238.4,666.1 240.6,666.6 242.9,667.1 C245.2,667.6 247.5,668.1 249.8,668.6 C252.1,669.0 254.3,669.5 256.6,669.9 C258.9,670.4 261.2,670.8 263.5,671.2 C265.8,671.7 268.1,672.1 270.4,672.5 C272.7,672.9 275.0,673.3 277.3,673.6 C279.6,674.0 281.9,674.4 284.2,674.8 C286.5,675.1 288.8,675.5 291.1,675.8 C293.4,676.2 295.7,676.5 298.0,676.8 C300.4,677.2 302.7,677.5 305.0,677.8 C307.3,678.1 309.6,678.4 311.9,678.8 C314.2,679.1 316.5,679.4 318.9,679.7 C321.2,680.0 323.5,680.2 325.8,680.5 C328.1,680.8 330.4,681.1 332.8,681.4 C335.1,681.7 337.4,682.0 339.7,682.2 C342.0,682.5 344.4,682.8 346.7,683.1 C349.0,683.3 351.3,683.6 353.6,683.9 C356.0,684.2 358.3,684.4 360.6,684.7 C362.9,685.0 365.3,685.3 367.6,685.5 C369.9,685.8 372.2,686.1 374.5,686.4 C376.9,686.6 379.2,686.9 381.5,687.2 C383.8,687.5 386.2,687.8 388.5,688.1 C390.8,688.4 393.1,688.7 395.4,689.0 C397.8,689.3 400.1,689.6 402.4,689.9 C404.7,690.2 407.0,690.5 409.3,690.8 C411.7,691.1 415.1,691.6 416.3,691.8"/>
<path class="d" d="M66.4,797.5 C65.9,796.4 64.6,793.3 63.7,791.1 C62.7,789.0 61.8,786.9 60.9,784.7 C60.0,782.6 59.1,780.4 58.2,778.3 C57.3,776.2 56.4,774.0 55.5,771.9 C54.6,769.7 53.7,767.5 52.8,765.4 C51.9,763.2 51.1,761.1 50.2,758.9 C49.3,756.7 48.4,754.6 47.6,752.4 C46.7,750.2 45.8,748.0 45.0,745.8 C44.1,743.7 43.3,741.5 42.5,739.3 C41.6,737.1 40.8,734.9 40.0,732.7 C39.1,730.5 38.3,728.3 37.5,726.1 C36.7,723.9 35.9,721.7 35.1,719.5 C34.4,717.3 33.6,715.1 32.8,712.8 C32.1,710.6 31.3,708.4 30.6,706.2 C29.8,703.9 29.1,701.7 28.4,699.5 C27.6,697.3 26.9,695.0 26.2,692.8 C25.5,690.5 24.9,688.3 24.2,686.1 C23.5,683.8 22.9,681.6 22.2,679.3 C21.6,677.1 21.0,674.8 20.3,672.5 C19.7,670.3 19.1,668.0 18.5,665.8 C18.0,663.5 17.4,661.2 16.8,658.9 C16.3,656.7 15.8,654.4 15.2,652.1 C14.7,649.8 14.2,647.6 13.7,645.3 C13.3,643.0 12.8,640.7 12.4,638.4 C11.9,636.1 11.5,633.8 11.1,631.5 C10.7,629.2 10.3,626.9 9.9,624.6 C9.5,622.3 9.2,620.0 8.8,617.7 C8.5,615.4 8.2,613.1 7.9,610.8 C7.6,608.5 7.4,606.2 7.1,603.8 C6.9,601.5 6.7,599.2 6.5,596.9 C6.3,594.6 6.1,592.2 5.9,589.9 C5.8,587.6 5.7,585.2 5.6,582.9 C5.5,580.6 5.4,578.3 5.4,575.9 C5.3,573.6 5.3,571.3 5.3,568.9 C5.3,566.6 5.4,564.3 5.5,562.0 C5.6,559.6 5.7,557.3 5.8,555.0 C6.0,552.7 6.1,550.4 6.4,548.0 C6.6,545.7 6.8,543.4 7.1,541.1 C7.4,538.8 7.8,536.5 8.1,534.2 C8.5,531.9 8.9,529.6 9.4,527.3 C9.8,525.1 10.3,522.8 10.8,520.5 C11.4,518.2 11.9,516.0 12.6,513.7 C13.2,511.5 13.8,509.2 14.6,507.0 C15.3,504.7 16.0,502.5 16.8,500.3 C17.7,498.0 18.5,495.8 19.4,493.6 C20.3,491.4 21.3,489.2 22.3,487.1 C23.3,484.9 24.3,482.8 25.5,480.7 C26.6,478.5 27.7,476.5 28.9,474.4 C30.2,472.4 31.4,470.4 32.8,468.4 C34.1,466.5 35.5,464.6 36.9,462.8 C38.4,460.9 39.9,459.1 41.4,457.4 C43.0,455.7 44.6,454.1 46.3,452.5 C47.9,451.0 49.7,449.5 51.5,448.1 C53.3,446.7 55.1,445.4 57.1,444.1 C59.0,442.9 61.0,441.8 63.0,440.7 C65.0,439.6 67.1,438.6 69.2,437.7 C71.3,436.7 73.4,435.8 75.6,435.0 C77.8,434.1 80.0,433.3 82.2,432.5 C84.4,431.8 86.7,431.0 88.9,430.3 C91.2,429.5 93.4,428.8 95.7,428.1 C98.0,427.4 100.2,426.7 102.5,426.0 C104.7,425.3 107.0,424.6 109.3,424.0 C111.6,423.3 113.8,422.7 116.1,422.1 C118.4,421.6 120.7,421.0 122.9,420.5 C125.2,420.0 127.5,419.6 129.8,419.2 C132.1,418.8 134.4,418.5 136.6,418.2 C138.9,418.0 141.2,417.8 143.5,417.7 C145.8,417.7 148.1,417.7 150.4,417.9 C152.8,418.1 156.2,418.7 157.4,418.9"/>
<path class="d" d="M454.4,674.3 C453.8,673.3 451.8,670.5 450.5,668.5 C449.2,666.6 447.9,664.7 446.6,662.8 C445.2,660.9 443.9,659.0 442.5,657.1 C441.1,655.2 439.7,653.3 438.3,651.4 C437.0,649.5 435.6,647.5 434.2,645.6 C432.8,643.7 431.4,641.8 430.0,639.9 C428.6,638.0 427.2,636.0 425.8,634.1 C424.4,632.2 423.1,630.2 421.7,628.3 C420.3,626.4 419.0,624.4 417.7,622.4 C416.3,620.5 415.0,618.5 413.7,616.5 C412.4,614.6 411.2,612.6 409.9,610.6 C408.7,608.6 407.4,606.5 406.3,604.5 C405.1,602.5 403.9,600.4 402.8,598.4 C401.7,596.3 400.6,594.2 399.5,592.2 C398.5,590.1 397.5,588.0 396.5,585.8 C395.6,583.7 394.6,581.6 393.8,579.4 C392.9,577.2 392.1,575.1 391.3,572.9 C390.5,570.7 389.8,568.5 389.1,566.2 C388.4,564.0 387.8,561.8 387.2,559.5 C386.6,557.3 386.1,555.0 385.6,552.7 C385.1,550.4 384.6,548.1 384.3,545.8 C383.9,543.5 383.5,541.2 383.2,538.8 C382.9,536.5 382.7,534.2 382.5,531.8 C382.3,529.4 382.2,527.1 382.1,524.7 C382.0,522.3 382.0,519.9 381.9,517.6 C381.8,515.2 381.8,512.8 381.7,510.4 C381.6,508.0 381.5,505.6 381.3,503.3 C381.1,500.9 380.9,498.5 380.5,496.2 C380.2,493.9 379.7,491.5 379.2,489.2 C378.7,486.9 378.1,484.6 377.4,482.4 C376.7,480.2 376.0,478.0 375.1,475.8 C374.2,473.7 373.2,471.6 372.1,469.6 C371.1,467.5 369.9,465.6 368.6,463.7 C367.3,461.8 365.9,460.0 364.4,458.2 C363.0,456.5 361.3,454.8 359.7,453.3 C358.0,451.7 356.1,450.3 354.3,448.9 C352.4,447.5 350.4,446.2 348.4,444.9 C346.4,443.7 344.4,442.5 342.3,441.4 C340.2,440.4 338.0,439.3 335.9,438.4 C333.7,437.4 331.5,436.5 329.3,435.7 C327.1,434.8 324.8,434.0 322.5,433.2 C320.3,432.5 318.0,431.8 315.7,431.1 C313.4,430.4 311.0,429.8 308.7,429.1 C306.4,428.5 304.0,427.9 301.7,427.3 C299.4,426.8 297.0,426.2 294.7,425.6 C292.3,425.1 290.0,424.5 287.7,424.0 C285.4,423.4 283.0,422.9 280.7,422.3 C278.4,421.8 276.1,421.2 273.9,420.6 C271.6,420.0 269.4,419.4 267.1,418.8 C264.9,418.1 262.7,417.5 260.6,416.8 C258.4,416.1 255.3,415.0 254.2,414.6"/>
<path class="d" d="M427.5,714.0 C406.2,720.7 349.4,739.2 300.0,754.4 C250.6,769.6 159.2,796.6 131.0,805.0"/>
</g>
<g id="nodes">
<polygon class="n" points="644.83,109.5 703.5,145.5 644.83,181.5 586.1,145.5" fill="#fff"/>
<rect class="n" x="390.1" y="257.2" width="106.8" height="48" fill="#d3d3d3"/>
<rect class="n" x="171.5" y="381.4" width="72" height="48" fill="#fff"/>
<rect class="n" x="146" y="528.2" width="115" height="48" fill="#fff"/>
<rect class="n" x="427.6" y="674.5" width="96" height="48" fill="#ffff00"/>
<rect class="n" x="40.5" y="797.7" width="78" height="48" fill="#d3d3d3"/>
</g>
<g id="markers">
<circle cx="644.83" cy="8" r="2.2" fill="#000" stroke="#000" stroke-width="1.33"/>
<polygon points="640.16,96 644.83,109.4 649.5,96" fill="#000" stroke="#000" stroke-width="1.33"/>
<polygon points="197.3,367 203.2,381.2 206.7,366.7" fill="#000" stroke="#000" stroke-width="1.33"/>
<polygon points="199.6,514.5 204.0,527.9 209.0,514.8" fill="#000" stroke="#000" stroke-width="1.33"/>
<circle cx="420" cy="252.7" r="5.33" fill="#c0c0c0" stroke="#c0c0c0" stroke-width="1.33"/>
<circle cx="501.8" cy="264" r="5.33" fill="#c0c0c0" stroke="#c0c0c0" stroke-width="1.33"/>
<circle cx="476.5" cy="669.3" r="5.33" fill="#c0c0c0" stroke="#c0c0c0" stroke-width="1.33"/>
<circle cx="488.7" cy="669.3" r="5.33" fill="#c0c0c0" stroke="#c0c0c0" stroke-width="1.33"/>
<circle cx="421.6" cy="692.9" r="5.33" fill="#c0c0c0" stroke="#c0c0c0" stroke-width="1.33"/>
<circle cx="529.3" cy="687.8" r="5.33" fill="#c0c0c0" stroke="#c0c0c0" stroke-width="1.33"/>
<circle cx="529.3" cy="691" r="5.33" fill="#c0c0c0" stroke="#c0c0c0" stroke-width="1.33"/>
<circle cx="529.3" cy="694.8" r="5.33" fill="#c0c0c0" stroke="#c0c0c0" stroke-width="1.33"/>
<circle cx="421.6" cy="697.2" r="5.33" fill="#000" stroke="#000" stroke-width="1.33"/>
<polygon points="157.2,414.0 170.8,414.5 159.6,423.0" fill="#c0c0c0" stroke="#c0c0c0" stroke-width="1.33"/>
<circle cx="248.9" cy="383.7" r="5.33" fill="none" stroke="#c0c0c0" stroke-width="1.33"/>
<circle cx="248.9" cy="413.9" r="5.33" fill="none" stroke="#c0c0c0" stroke-width="1.33"/>
<circle cx="165.9" cy="411.9" r="5.33" fill="none" stroke="#c0c0c0" stroke-width="1.33"/>
<polygon points="129.6,800.7 118.4,809.3 132.6,809.7" fill="#c0c0c0" stroke="#c0c0c0" stroke-width="1.33"/>
</g>
<g id="labels">
<text class="g" transform="translate(644.0,149) scale(0.98,1)">New</text>
<text class="g" transform="translate(443.5,285) scale(0.966,1)">Inaccurate</text>
<text class="g" transform="translate(207.5,409.2) scale(0.981,1)">Open</text>
<text class="g" transform="translate(203.5,555.7) scale(0.966,1)">In Progress</text>
<text class="k" transform="translate(475.5,702.2) scale(0.966,1)">Resolved</text>
<text class="g" transform="translate(79.6,824.7) scale(0.975,1)">Closed</text>
<text class="k" transform="translate(720.5,50.8) scale(0.966,1)">Create</text>
<text class="k" transform="translate(720.3,76.8) scale(0.966,1)">(cdeneux, 10/2/13)</text>
<text class="k" transform="translate(301.9,273) scale(0.976,1)">Confirm</text>
<text class="k" transform="translate(302.3,298) scale(0.964,1)">(cdeneux, 10/2/13)</text>
<text class="k" transform="translate(279.5,470) scale(0.966,1)">Start Progress</text>
<text class="k" transform="translate(279.5,495) scale(0.964,1)">(cdeneux, 10/2/13)</text>
<text class="k" transform="translate(280.2,617) scale(0.966,1)">Resolve</text>
<text class="k" transform="translate(280.2,642) scale(0.964,1)">(cdeneux, 10/2/13)</text>
<text class="g" transform="translate(489.9,223) scale(0.971,1)">Cannot Reproduce</text>
<text class="g" transform="translate(630,223) scale(0.966,1)">Need Info</text>
<text class="g" transform="translate(378.5,348) scale(0.976,1)">Confirm</text>
<text class="g" transform="translate(767.7,409) scale(0.984,1)">Mark As Duplicate</text>
<text class="g" transform="translate(915.4,409) scale(0.94,1)">Reject</text>
<text class="g" transform="translate(1023,409) scale(0.966,1)">Resolve</text>
<text class="g" transform="translate(142.2,483) scale(0.972,1)">Stop Progress</text>
<text class="g" transform="translate(464.7,483) scale(0.94,1)">Reject</text>
<text class="g" transform="translate(572.9,483) scale(0.984,1)">Mark As Duplicate</text>
<text class="g" transform="translate(107.5,556) scale(0.94,1)">Reject</text>
<text class="g" transform="translate(425,556) scale(0.955,1)">Reopen</text>
<text class="g" transform="translate(45,629) scale(0.955,1)">Reopen</text>
<text class="g" transform="translate(336,764) scale(0.966,1)">Close</text>
<text class="f" transform="translate(530.5,884) scale(1.0,1)">pl-bugtracker-workflow (live)</text>
<text class="f" transform="translate(530.5,905) scale(1.0,1)">Modified on Tue Feb 09 11:51:37 CET 2016 by vnoel</text>
</g>
</svg>
</body>
</html>
